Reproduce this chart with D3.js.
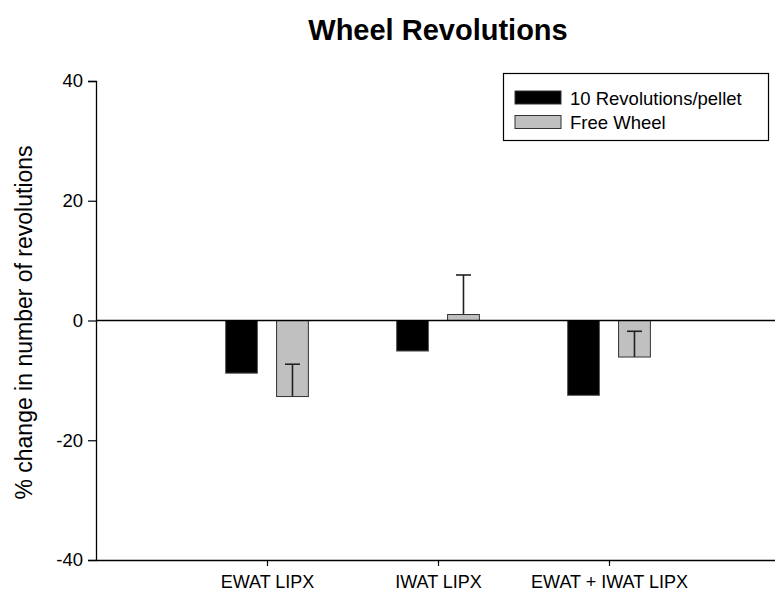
<!DOCTYPE html>
<html><head><meta charset="utf-8">
<script src="https://cdn.jsdelivr.net/npm/d3@7"></script>
<style>body{margin:0;background:#fff}svg{display:block;font-family:Arial,"Liberation Sans",sans-serif}</style>
</head><body><svg id="c" width="775" height="600"></svg>
<script>
const categories = ["EWAT LIPX", "IWAT LIPX", "EWAT + IWAT LIPX"];
const seriesNames = ["10 Revolutions/pellet", "Free Wheel"];
const revPellet = [-8.8, -5.1, -12.5];
const freeWheel = [-12.7, 1.0, -6.1];
const freeWheelErr = [5.4, 6.6, 4.3];
const yTicks = [-40, -20, 0, 20, 40];

const svg = d3.select("#c");
const x = d3.scaleLinear().domain([0, 4]).range([96, 780]);
const y = d3.scaleLinear().domain([-40, 40]).range([560, 81]);
const barW = 0.186, off = 0.149;
const colors = ["#000000", "#c0c0c0"];

// title
svg.append("text").attr("x", 438).attr("y", 40).attr("text-anchor", "middle")
  .attr("font-size", 29).attr("font-weight", "bold").text("Wheel Revolutions");

// y axis
const ya = svg.append("g").attr("transform", `translate(${x(0)},0)`)
  .call(d3.axisLeft(y).tickValues(yTicks).tickFormat(d => String(d)).tickSize(8).tickPadding(5));
ya.select(".domain").attr("stroke", "#000").attr("stroke-width", 1.3);
ya.selectAll(".tick line").attr("stroke", "#000").attr("stroke-width", 1.2);
ya.selectAll(".tick text").attr("font-size", 18.5).attr("font-family", "Arial, 'Liberation Sans', sans-serif").attr("fill", "#000");

// x axis (bottom)
const xa = svg.append("g").attr("transform", `translate(0,${y(-40)})`)
  .call(d3.axisBottom(x).tickValues([1, 2, 3]).tickFormat(d => categories[d - 1]).tickSize(6).tickPadding(9).tickSizeOuter(0));
xa.select(".domain").attr("stroke", "#000").attr("stroke-width", 1.3);
xa.selectAll(".tick line").attr("stroke", "#000").attr("stroke-width", 1.2);
xa.selectAll(".tick text").attr("font-size", 18).attr("font-family", "Arial, 'Liberation Sans', sans-serif").attr("fill", "#000");

// y label
svg.append("text").attr("transform", `translate(32,${(y(40) + y(-40)) / 2 + 2}) rotate(-90)`)
  .attr("text-anchor", "middle").attr("font-size", 23).text("% change in number of revolutions");

// bars
const series = [revPellet, freeWheel];
series.forEach((vals, s) => {
  svg.append("g").selectAll("rect").data(vals).join("rect")
    .attr("x", (d, i) => x(i + 1 + (s === 0 ? -off : off) - barW / 2))
    .attr("width", x(barW) - x(0))
    .attr("y", d => y(Math.max(0, d)))
    .attr("height", d => Math.abs(y(d) - y(0)))
    .attr("fill", colors[s]).attr("stroke", s === 0 ? "#555" : "#333").attr("stroke-width", 1);
});

// error bars (free wheel)
const eg = svg.append("g").attr("stroke", "#222").attr("stroke-width", 1.6);
freeWheel.forEach((v, i) => {
  const cx = x(i + 1 + off);
  const top = v + freeWheelErr[i];
  eg.append("line").attr("x1", cx).attr("x2", cx).attr("y1", y(v)).attr("y2", y(top));
  eg.append("line").attr("x1", cx - 7.5).attr("x2", cx + 7.5).attr("y1", y(top)).attr("y2", y(top));
});

// zero line
svg.append("line").attr("x1", x(0)).attr("x2", 775).attr("y1", y(0)).attr("y2", y(0))
  .attr("stroke", "#000").attr("stroke-width", 1.3);

// legend
const lg = svg.append("g");
lg.append("rect").attr("x", 503.5).attr("y", 73.5).attr("width", 265).attr("height", 67)
  .attr("fill", "#fff").attr("stroke", "#000").attr("stroke-width", 1.2);
seriesNames.forEach((n, i) => {
  lg.append("rect").attr("x", 515).attr("y", 91 + i * 24.5).attr("width", 46).attr("height", 13)
    .attr("fill", colors[i]).attr("stroke", "#333").attr("stroke-width", 1);
  lg.append("text").attr("x", 570).attr("y", 104.5 + i * 24).attr("font-size", 18.5).text(n);
});
</script></body></html>
